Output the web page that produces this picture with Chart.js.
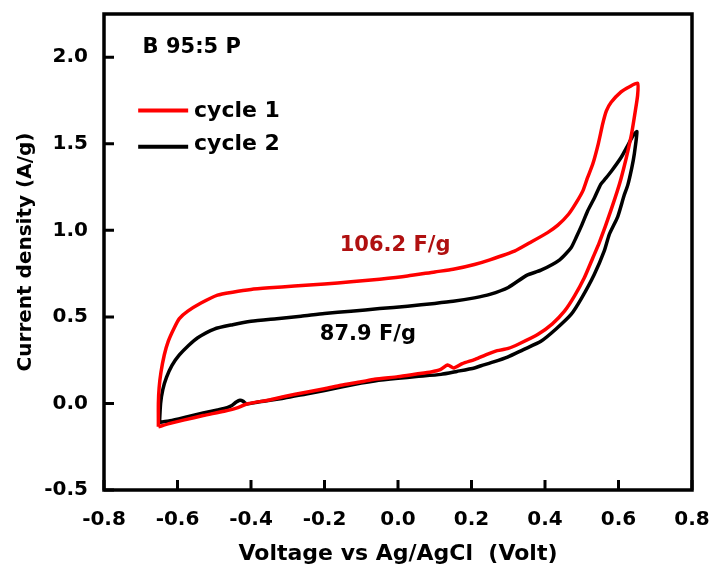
<!DOCTYPE html>
<html lang="en">
<head>
<meta charset="UTF-8" />
<title>CV curves - B 95:5 P</title>
<script src="https://cdn.jsdelivr.net/npm/chart.js"></script>
<style>
  html, body { margin: 0; padding: 0; background: #ffffff; }
  .chart-box { width: 710px; height: 574px; }
</style>
</head>
<body>
<div class="chart-box"><canvas id="cvChart"></canvas></div>

<script>
  // Cycle 1 (red): lower branch left -> right, then upper branch back
  const cycle1Volt = [
    -0.652, -0.62, -0.581, -0.53, -0.473, -0.44, -0.409, -0.35, -0.309, -0.25,
    -0.2, -0.155, -0.1, -0.064, 0.0, 0.05, 0.09, 0.115, 0.135, 0.152,
    0.175, 0.21, 0.244, 0.27, 0.3, 0.33, 0.38, 0.42, 0.453, 0.48,
    0.507, 0.53, 0.548, 0.58, 0.607, 0.634, 0.645, 0.652, 0.652,
    0.63, 0.607, 0.58, 0.567, 0.557, 0.545, 0.53, 0.515, 0.503, 0.485,
    0.464, 0.435, 0.407, 0.36, 0.317, 0.25, 0.208, 0.15, 0.1, 0.026,
    -0.05, -0.128, -0.2, -0.282, -0.35, -0.4, -0.45, -0.491, -0.536, -0.572,
    -0.595, -0.609, -0.625, -0.636, -0.645, -0.65, -0.652, -0.652
  ];
  const cycle1Curr = [
    -0.135, -0.115, -0.095, -0.07, -0.045, -0.027, -0.002, 0.02, 0.04, 0.065,
    0.085, 0.105, 0.125, 0.14, 0.155, 0.17, 0.182, 0.195, 0.222, 0.205,
    0.23, 0.255, 0.285, 0.305, 0.318, 0.345, 0.398, 0.46, 0.533, 0.62,
    0.726, 0.84, 0.93, 1.12, 1.3, 1.54, 1.68, 1.78, 1.85,
    1.83, 1.80, 1.74, 1.69, 1.615, 1.5, 1.383, 1.3, 1.228, 1.16,
    1.093, 1.03, 0.987, 0.93, 0.88, 0.83, 0.803, 0.775, 0.76, 0.736,
    0.718, 0.703, 0.69, 0.678, 0.668, 0.659, 0.643, 0.626, 0.58, 0.533,
    0.49, 0.436, 0.36, 0.28, 0.18, 0.09, 0.0, -0.135
  ];

  // Cycle 2 (black)
  const cycle2Volt = [
    -0.649, -0.62, -0.581, -0.53, -0.491, -0.465, -0.452, -0.44, -0.43, -0.421,
    -0.412, -0.38, -0.309, -0.25, -0.2, -0.155, -0.1, -0.064, 0.0, 0.05,
    0.117, 0.16, 0.208, 0.226, 0.26, 0.298, 0.34, 0.389, 0.43, 0.471,
    0.5, 0.534, 0.561, 0.575, 0.598, 0.615, 0.625, 0.636, 0.643, 0.65,
    0.64, 0.625, 0.607, 0.58, 0.565, 0.552, 0.535, 0.516, 0.5, 0.485,
    0.471, 0.44, 0.389, 0.35, 0.3, 0.25, 0.208, 0.15, 0.1, 0.026,
    -0.05, -0.128, -0.2, -0.264, -0.33, -0.4, -0.45, -0.5, -0.545, -0.57,
    -0.595, -0.615, -0.63, -0.64, -0.646, -0.649
  ];
  const cycle2Curr = [
    -0.11, -0.1, -0.081, -0.055, -0.037, -0.024, -0.012, 0.008, 0.018, 0.012,
    -0.003, 0.008, 0.031, 0.055, 0.075, 0.095, 0.118, 0.13, 0.145, 0.155,
    0.168, 0.185, 0.205, 0.218, 0.24, 0.268, 0.31, 0.359, 0.43, 0.514,
    0.61, 0.745, 0.88, 0.977, 1.08, 1.2, 1.26, 1.36, 1.441, 1.57,
    1.55, 1.49, 1.421, 1.34, 1.3, 1.267, 1.19, 1.112, 1.03, 0.96,
    0.9, 0.83, 0.77, 0.74, 0.67, 0.63, 0.61, 0.59, 0.578, 0.562,
    0.548, 0.533, 0.52, 0.504, 0.49, 0.475, 0.455, 0.43, 0.38, 0.335,
    0.28, 0.22, 0.15, 0.08, 0.0, -0.11
  ];

  const xTickValues = [-0.8, -0.6, -0.4, -0.2, 0.0, 0.2, 0.4, 0.6, 0.8];
  const yTickValues = [-0.5, 0.0, 0.5, 1.0, 1.5, 2.0];

  const toPoints = (xs, ys) => xs.map((v, i) => ({ x: v, y: ys[i] }));
  const fmt = v => (Math.abs(v) < 1e-9 ? 0 : v).toFixed(1);
  const noPadding = s => { s.paddingTop = 0; s.paddingBottom = 0; s.paddingLeft = 0; s.paddingRight = 0; };

  Chart.defaults.font.family = '"DejaVu Sans", sans-serif';
  Chart.defaults.color = '#000';

  // frame, inward ticks, legend and notes
  const frameAndNotes = {
    id: 'frameAndNotes',
    afterDraw(chart) {
      const { ctx, chartArea: a, scales: { x, y } } = chart;
      ctx.save();
      ctx.strokeStyle = '#000';
      ctx.lineWidth = 3.5;
      ctx.strokeRect(a.left, a.top, a.right - a.left, a.bottom - a.top);

      ctx.lineWidth = 3;
      ctx.beginPath();
      x.ticks.forEach(t => {
        const px = x.getPixelForValue(t.value);
        ctx.moveTo(px, a.bottom);
        ctx.lineTo(px, a.bottom - 10);
      });
      y.ticks.forEach(t => {
        const py = y.getPixelForValue(t.value);
        ctx.moveTo(a.left, py);
        ctx.lineTo(a.left + 10, py);
      });
      ctx.stroke();

      // legend
      ctx.lineWidth = 4;
      ctx.strokeStyle = '#ff0000';
      ctx.beginPath();
      ctx.moveTo(x.getPixelForValue(-0.707), y.getPixelForValue(1.692));
      ctx.lineTo(x.getPixelForValue(-0.571), y.getPixelForValue(1.692));
      ctx.stroke();
      ctx.strokeStyle = '#000';
      ctx.beginPath();
      ctx.moveTo(x.getPixelForValue(-0.707), y.getPixelForValue(1.483));
      ctx.lineTo(x.getPixelForValue(-0.571), y.getPixelForValue(1.483));
      ctx.stroke();

      ctx.textBaseline = 'middle';
      ctx.textAlign = 'left';
      ctx.fillStyle = '#000';
      ctx.font = 'bold 22px "DejaVu Sans"';
      ctx.fillText('cycle 1', x.getPixelForValue(-0.555), y.getPixelForValue(1.69));
      ctx.fillText('cycle 2', x.getPixelForValue(-0.555), y.getPixelForValue(1.495));

      ctx.font = 'bold 21px "DejaVu Sans"';
      ctx.fillText('B 95:5 P', x.getPixelForValue(-0.695), y.getPixelForValue(2.057));

      ctx.textAlign = 'center';
      ctx.fillStyle = '#b01010';
      ctx.fillText('106.2 F/g', x.getPixelForValue(-0.008), y.getPixelForValue(0.91));
      ctx.fillStyle = '#000';
      ctx.fillText('87.9 F/g', x.getPixelForValue(-0.082), y.getPixelForValue(0.40));
      ctx.restore();
    }
  };

  new Chart(document.getElementById('cvChart').getContext('2d'), {
    type: 'scatter',
    data: {
      datasets: [
        {
          label: 'cycle 1',
          data: toPoints(cycle1Volt, cycle1Curr),
          showLine: true,
          borderColor: '#ff0000',
          borderWidth: 3.5,
          pointRadius: 0,
          tension: 0.2
        },
        {
          label: 'cycle 2',
          data: toPoints(cycle2Volt, cycle2Curr),
          showLine: true,
          borderColor: '#000000',
          borderWidth: 3.5,
          pointRadius: 0,
          tension: 0.2
        }
      ]
    },
    options: {
      responsive: true,
      maintainAspectRatio: false,
      animation: false,
      layout: { padding: { top: 14, right: 18, left: 0, bottom: 0 } },
      plugins: { legend: { display: false }, tooltip: { enabled: false } },
      scales: {
        x: {
          type: 'linear',
          min: -0.8,
          max: 0.8,
          afterBuildTicks: s => { s.ticks = xTickValues.map(v => ({ value: v })); },
          afterFit: s => { s.height = 84; noPadding(s); },
          grid: { display: false, drawTicks: false },
          border: { display: false },
          ticks: {
            padding: 18,
            maxRotation: 0,
            font: { size: 20, weight: 'bold' },
            callback: v => fmt(v)
          },
          title: {
            display: true,
            text: 'Voltage vs Ag/AgCl  (Volt)',
            font: { size: 22, weight: 'bold' },
            padding: { top: 0, bottom: 7 }
          }
        },
        y: {
          type: 'linear',
          min: -0.5,
          max: 2.25,
          afterBuildTicks: s => { s.ticks = yTickValues.map(v => ({ value: v })); },
          afterFit: s => { s.width = 104; noPadding(s); },
          grid: { display: false, drawTicks: false },
          border: { display: false },
          ticks: {
            padding: 16,
            font: { size: 20, weight: 'bold' },
            callback: v => fmt(v)
          },
          title: {
            display: true,
            text: 'Current density (A/g)',
            font: { size: 20, weight: 'bold' },
            padding: { top: 14, bottom: 0 }
          }
        }
      }
    },
    plugins: [frameAndNotes]
  });
</script>
</body>
</html>
